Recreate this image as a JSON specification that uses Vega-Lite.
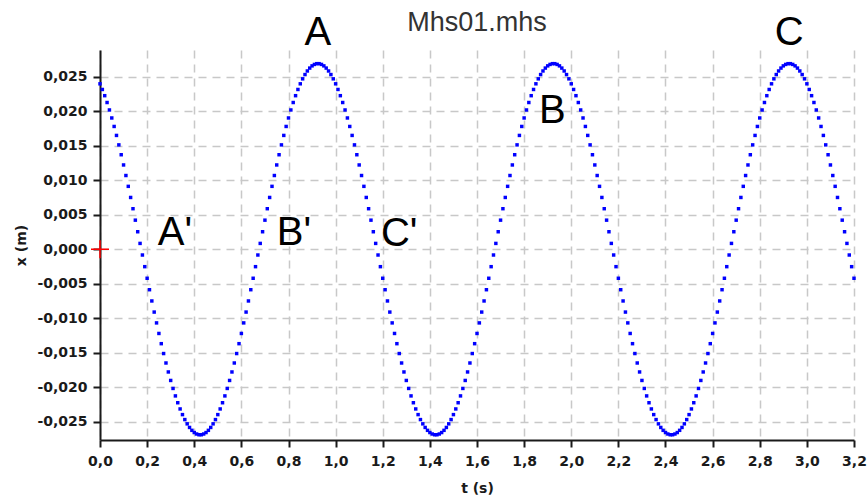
{
"$schema":"https://vega.github.io/schema/vega-lite/v6.json",
"width":754,"height":390,
"autosize":{"type":"none"},
"padding":{"left":100,"top":50,"right":14,"bottom":64},
"background":"white",
"title":{"text":"Mhs01.mhs","font":"Liberation Sans","fontSize":27,"fontWeight":"normal","color":"#333333","baseline":"alphabetic","offset":-45},
"config":{
 "locale":{"number":{"decimal":",","thousands":".","grouping":[3],"currency":["","€"],"minus":"-"}},
 "view":{"stroke":null},
 "axis":{"domainColor":"#1a1a1a","domainWidth":2,"tickColor":"#1a1a1a","tickWidth":2,"tickSize":7,"labelFont":"DejaVu Sans","labelFontSize":14,"labelFontWeight":"bold","labelColor":"#1a1a1a","titleFont":"DejaVu Sans","titleFontSize":14,"titleFontWeight":"bold","titleColor":"#1a1a1a","gridColor":"#c8c8c8","gridDash":[8,6],"gridWidth":1.5,"labelFlush":false,"labelOverlap":false},
 "axisY":{"labelOverlap":false}
},
"datasets":{
"series":[
{"t":0,"x":0.02397},{"t":0.01,"x":0.02315},{"t":0.02,"x":0.02225},{"t":0.03,"x":0.02126},{"t":0.04,"x":0.02018},{"t":0.05,"x":0.01902},{"t":0.06,"x":0.01779},{"t":0.07,"x":0.01649},{"t":0.08,"x":0.01512},{"t":0.09,"x":0.01369},
{"t":0.1,"x":0.01221},{"t":0.11,"x":0.01068},{"t":0.12,"x":0.00911},{"t":0.13,"x":0.0075},{"t":0.14,"x":0.00587},{"t":0.15,"x":0.00421},{"t":0.16,"x":0.00253},{"t":0.17,"x":0.00084},{"t":0.18,"x":-0.00084},{"t":0.19,"x":-0.00253},
{"t":0.2,"x":-0.00421},{"t":0.21,"x":-0.00587},{"t":0.22,"x":-0.0075},{"t":0.23,"x":-0.00911},{"t":0.24,"x":-0.01068},{"t":0.25,"x":-0.01221},{"t":0.26,"x":-0.01369},{"t":0.27,"x":-0.01512},{"t":0.28,"x":-0.01649},{"t":0.29,"x":-0.01779},
{"t":0.3,"x":-0.01902},{"t":0.31,"x":-0.02018},{"t":0.32,"x":-0.02126},{"t":0.33,"x":-0.02225},{"t":0.34,"x":-0.02315},{"t":0.35,"x":-0.02397},{"t":0.36,"x":-0.02469},{"t":0.37,"x":-0.02531},{"t":0.38,"x":-0.02583},{"t":0.39,"x":-0.02625},
{"t":0.4,"x":-0.02657},{"t":0.41,"x":-0.02678},{"t":0.42,"x":-0.02689},{"t":0.43,"x":-0.02689},{"t":0.44,"x":-0.02678},{"t":0.45,"x":-0.02657},{"t":0.46,"x":-0.02625},{"t":0.47,"x":-0.02583},{"t":0.48,"x":-0.02531},{"t":0.49,"x":-0.02469},
{"t":0.5,"x":-0.02397},{"t":0.51,"x":-0.02315},{"t":0.52,"x":-0.02225},{"t":0.53,"x":-0.02126},{"t":0.54,"x":-0.02018},{"t":0.55,"x":-0.01902},{"t":0.56,"x":-0.01779},{"t":0.57,"x":-0.01649},{"t":0.58,"x":-0.01512},{"t":0.59,"x":-0.01369},
{"t":0.6,"x":-0.01221},{"t":0.61,"x":-0.01068},{"t":0.62,"x":-0.00911},{"t":0.63,"x":-0.0075},{"t":0.64,"x":-0.00587},{"t":0.65,"x":-0.00421},{"t":0.66,"x":-0.00253},{"t":0.67,"x":-0.00084},{"t":0.68,"x":0.00084},{"t":0.69,"x":0.00253},
{"t":0.7,"x":0.00421},{"t":0.71,"x":0.00587},{"t":0.72,"x":0.0075},{"t":0.73,"x":0.00911},{"t":0.74,"x":0.01068},{"t":0.75,"x":0.01221},{"t":0.76,"x":0.01369},{"t":0.77,"x":0.01512},{"t":0.78,"x":0.01649},{"t":0.79,"x":0.01779},
{"t":0.8,"x":0.01902},{"t":0.81,"x":0.02018},{"t":0.82,"x":0.02126},{"t":0.83,"x":0.02225},{"t":0.84,"x":0.02315},{"t":0.85,"x":0.02397},{"t":0.86,"x":0.02469},{"t":0.87,"x":0.02531},{"t":0.88,"x":0.02583},{"t":0.89,"x":0.02625},
{"t":0.9,"x":0.02657},{"t":0.91,"x":0.02678},{"t":0.92,"x":0.02689},{"t":0.93,"x":0.02689},{"t":0.94,"x":0.02678},{"t":0.95,"x":0.02657},{"t":0.96,"x":0.02625},{"t":0.97,"x":0.02583},{"t":0.98,"x":0.02531},{"t":0.99,"x":0.02469},
{"t":1,"x":0.02397},{"t":1.01,"x":0.02315},{"t":1.02,"x":0.02225},{"t":1.03,"x":0.02126},{"t":1.04,"x":0.02018},{"t":1.05,"x":0.01902},{"t":1.06,"x":0.01779},{"t":1.07,"x":0.01649},{"t":1.08,"x":0.01512},{"t":1.09,"x":0.01369},
{"t":1.1,"x":0.01221},{"t":1.11,"x":0.01068},{"t":1.12,"x":0.00911},{"t":1.13,"x":0.0075},{"t":1.14,"x":0.00587},{"t":1.15,"x":0.00421},{"t":1.16,"x":0.00253},{"t":1.17,"x":0.00084},{"t":1.18,"x":-0.00084},{"t":1.19,"x":-0.00253},
{"t":1.2,"x":-0.00421},{"t":1.21,"x":-0.00587},{"t":1.22,"x":-0.0075},{"t":1.23,"x":-0.00911},{"t":1.24,"x":-0.01068},{"t":1.25,"x":-0.01221},{"t":1.26,"x":-0.01369},{"t":1.27,"x":-0.01512},{"t":1.28,"x":-0.01649},{"t":1.29,"x":-0.01779},
{"t":1.3,"x":-0.01902},{"t":1.31,"x":-0.02018},{"t":1.32,"x":-0.02126},{"t":1.33,"x":-0.02225},{"t":1.34,"x":-0.02315},{"t":1.35,"x":-0.02397},{"t":1.36,"x":-0.02469},{"t":1.37,"x":-0.02531},{"t":1.38,"x":-0.02583},{"t":1.39,"x":-0.02625},
{"t":1.4,"x":-0.02657},{"t":1.41,"x":-0.02678},{"t":1.42,"x":-0.02689},{"t":1.43,"x":-0.02689},{"t":1.44,"x":-0.02678},{"t":1.45,"x":-0.02657},{"t":1.46,"x":-0.02625},{"t":1.47,"x":-0.02583},{"t":1.48,"x":-0.02531},{"t":1.49,"x":-0.02469},
{"t":1.5,"x":-0.02397},{"t":1.51,"x":-0.02315},{"t":1.52,"x":-0.02225},{"t":1.53,"x":-0.02126},{"t":1.54,"x":-0.02018},{"t":1.55,"x":-0.01902},{"t":1.56,"x":-0.01779},{"t":1.57,"x":-0.01649},{"t":1.58,"x":-0.01512},{"t":1.59,"x":-0.01369},
{"t":1.6,"x":-0.01221},{"t":1.61,"x":-0.01068},{"t":1.62,"x":-0.00911},{"t":1.63,"x":-0.0075},{"t":1.64,"x":-0.00587},{"t":1.65,"x":-0.00421},{"t":1.66,"x":-0.00253},{"t":1.67,"x":-0.00084},{"t":1.68,"x":0.00084},{"t":1.69,"x":0.00253},
{"t":1.7,"x":0.00421},{"t":1.71,"x":0.00587},{"t":1.72,"x":0.0075},{"t":1.73,"x":0.00911},{"t":1.74,"x":0.01068},{"t":1.75,"x":0.01221},{"t":1.76,"x":0.01369},{"t":1.77,"x":0.01512},{"t":1.78,"x":0.01649},{"t":1.79,"x":0.01779},
{"t":1.8,"x":0.01902},{"t":1.81,"x":0.02018},{"t":1.82,"x":0.02126},{"t":1.83,"x":0.02225},{"t":1.84,"x":0.02315},{"t":1.85,"x":0.02397},{"t":1.86,"x":0.02469},{"t":1.87,"x":0.02531},{"t":1.88,"x":0.02583},{"t":1.89,"x":0.02625},
{"t":1.9,"x":0.02657},{"t":1.91,"x":0.02678},{"t":1.92,"x":0.02689},{"t":1.93,"x":0.02689},{"t":1.94,"x":0.02678},{"t":1.95,"x":0.02657},{"t":1.96,"x":0.02625},{"t":1.97,"x":0.02583},{"t":1.98,"x":0.02531},{"t":1.99,"x":0.02469},
{"t":2,"x":0.02397},{"t":2.01,"x":0.02315},{"t":2.02,"x":0.02225},{"t":2.03,"x":0.02126},{"t":2.04,"x":0.02018},{"t":2.05,"x":0.01902},{"t":2.06,"x":0.01779},{"t":2.07,"x":0.01649},{"t":2.08,"x":0.01512},{"t":2.09,"x":0.01369},
{"t":2.1,"x":0.01221},{"t":2.11,"x":0.01068},{"t":2.12,"x":0.00911},{"t":2.13,"x":0.0075},{"t":2.14,"x":0.00587},{"t":2.15,"x":0.00421},{"t":2.16,"x":0.00253},{"t":2.17,"x":0.00084},{"t":2.18,"x":-0.00084},{"t":2.19,"x":-0.00253},
{"t":2.2,"x":-0.00421},{"t":2.21,"x":-0.00587},{"t":2.22,"x":-0.0075},{"t":2.23,"x":-0.00911},{"t":2.24,"x":-0.01068},{"t":2.25,"x":-0.01221},{"t":2.26,"x":-0.01369},{"t":2.27,"x":-0.01512},{"t":2.28,"x":-0.01649},{"t":2.29,"x":-0.01779},
{"t":2.3,"x":-0.01902},{"t":2.31,"x":-0.02018},{"t":2.32,"x":-0.02126},{"t":2.33,"x":-0.02225},{"t":2.34,"x":-0.02315},{"t":2.35,"x":-0.02397},{"t":2.36,"x":-0.02469},{"t":2.37,"x":-0.02531},{"t":2.38,"x":-0.02583},{"t":2.39,"x":-0.02625},
{"t":2.4,"x":-0.02657},{"t":2.41,"x":-0.02678},{"t":2.42,"x":-0.02689},{"t":2.43,"x":-0.02689},{"t":2.44,"x":-0.02678},{"t":2.45,"x":-0.02657},{"t":2.46,"x":-0.02625},{"t":2.47,"x":-0.02583},{"t":2.48,"x":-0.02531},{"t":2.49,"x":-0.02469},
{"t":2.5,"x":-0.02397},{"t":2.51,"x":-0.02315},{"t":2.52,"x":-0.02225},{"t":2.53,"x":-0.02126},{"t":2.54,"x":-0.02018},{"t":2.55,"x":-0.01902},{"t":2.56,"x":-0.01779},{"t":2.57,"x":-0.01649},{"t":2.58,"x":-0.01512},{"t":2.59,"x":-0.01369},
{"t":2.6,"x":-0.01221},{"t":2.61,"x":-0.01068},{"t":2.62,"x":-0.00911},{"t":2.63,"x":-0.0075},{"t":2.64,"x":-0.00587},{"t":2.65,"x":-0.00421},{"t":2.66,"x":-0.00253},{"t":2.67,"x":-0.00084},{"t":2.68,"x":0.00084},{"t":2.69,"x":0.00253},
{"t":2.7,"x":0.00421},{"t":2.71,"x":0.00587},{"t":2.72,"x":0.0075},{"t":2.73,"x":0.00911},{"t":2.74,"x":0.01068},{"t":2.75,"x":0.01221},{"t":2.76,"x":0.01369},{"t":2.77,"x":0.01512},{"t":2.78,"x":0.01649},{"t":2.79,"x":0.01779},
{"t":2.8,"x":0.01902},{"t":2.81,"x":0.02018},{"t":2.82,"x":0.02126},{"t":2.83,"x":0.02225},{"t":2.84,"x":0.02315},{"t":2.85,"x":0.02397},{"t":2.86,"x":0.02469},{"t":2.87,"x":0.02531},{"t":2.88,"x":0.02583},{"t":2.89,"x":0.02625},
{"t":2.9,"x":0.02657},{"t":2.91,"x":0.02678},{"t":2.92,"x":0.02689},{"t":2.93,"x":0.02689},{"t":2.94,"x":0.02678},{"t":2.95,"x":0.02657},{"t":2.96,"x":0.02625},{"t":2.97,"x":0.02583},{"t":2.98,"x":0.02531},{"t":2.99,"x":0.02469},
{"t":3,"x":0.02397},{"t":3.01,"x":0.02315},{"t":3.02,"x":0.02225},{"t":3.03,"x":0.02126},{"t":3.04,"x":0.02018},{"t":3.05,"x":0.01902},{"t":3.06,"x":0.01779},{"t":3.07,"x":0.01649},{"t":3.08,"x":0.01512},{"t":3.09,"x":0.01369},
{"t":3.1,"x":0.01221},{"t":3.11,"x":0.01068},{"t":3.12,"x":0.00911},{"t":3.13,"x":0.0075},{"t":3.14,"x":0.00587},{"t":3.15,"x":0.00421},{"t":3.16,"x":0.00253},{"t":3.17,"x":0.00084},{"t":3.18,"x":-0.00084},{"t":3.19,"x":-0.00253},
{"t":3.2,"x":-0.00421}
],
"labels":[
{"t":0.925,"x":0.0296,"label":"A"},
{"t":0.318,"x":0.0006,"label":"A'"},
{"t":0.823,"x":0.0006,"label":"B'"},
{"t":1.27,"x":0.0004,"label":"C'"},
{"t":1.92,"x":0.0183,"label":"B"},
{"t":2.925,"x":0.0296,"label":"C"}
],
"origin":[{"t":0,"x":0}]
},
"encoding":{
  "x":{"field":"t","type":"quantitative","scale":{"domain":[0,3.2],"nice":false,"zero":false},
       "axis":{"values":[0,0.2,0.4,0.6,0.8,1,1.2,1.4,1.6,1.8,2,2.2,2.4,2.6,2.8,3,3.2],"format":".1f","title":"t (s)","labelFontSize":14,"titleFontSize":14,"labelPadding":7,"titlePadding":13,"grid":true,"labelOverlap":false,"labelFlush":false}},
  "y":{"field":"x","type":"quantitative","scale":{"domain":[-0.02765,0.02887],"nice":false,"zero":false},
       "axis":{"values":[-0.025,-0.02,-0.015,-0.01,-0.005,0,0.005,0.01,0.015,0.02,0.025],"format":".3f","title":"x (m)","labelFontSize":14,"titleFontSize":14,"labelPadding":6,"titlePadding":8,"grid":true,"labelOverlap":false,"labelFlush":false}}
},
"layer":[
{"data":{"name":"series"},
 "mark":{"type":"point","shape":"square","filled":true,"color":"#0000ff","size":12,"opacity":1}},
{"data":{"name":"origin"},
 "mark":{"type":"point","shape":"M-1,0H1M0,-1V1","filled":false,"stroke":"#ff0000","strokeWidth":1.5,"size":324,"opacity":1}},
{"data":{"name":"labels"},
 "mark":{"type":"text","font":"Liberation Sans","fontSize":40,"color":"#000000","baseline":"alphabetic","align":"center","clip":false},
 "encoding":{"text":{"field":"label"}}}
]
}
